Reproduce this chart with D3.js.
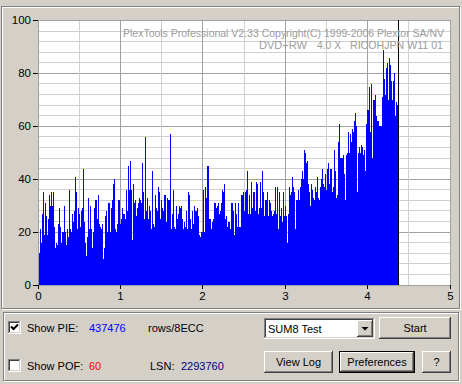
<!DOCTYPE html>
<html><head><meta charset="utf-8">
<script src="https://cdn.jsdelivr.net/npm/d3@7/dist/d3.min.js"></script>
<style>html,body{margin:0;padding:0;background:#D4D0C8;overflow:hidden}svg{display:block}</style>
</head><body>
<svg id="c" width="462" height="384"></svg>
<script>
// ---- data (PIE per position) ----
const pieSegA = [24,12,21,16,27,35,19,31,26,19,25,34,30,35,30,35,22,14,16,15,
23,29,22,16,20,20,30,20,15,21,18,36,21,20,27,24,28,41,35,21,
29,27,22,28,29,44,24,16,11,18,33,21,30,21,14,20,29,32,32,25,
34,23,22,21,23,10,14,26,28,20,31,31,20,29,32,38,40,21,20,23,
32,32,23,25,29,27,27,25,36,28,45,36,47,36,17,38,31,32,26,29,
31,33,32,31,46,35,25,56,28,33,25,30,28,21,43,23,22,34,29,28,
37,35,25,32,29,28,34,34,24,33,32,32,57,21,27,36,22,21,30,25,
27,30,29,30,25,21,24,22,28,21,35,34,25,21,28,23,30,28,28,29,
26,19,18,20,20,36,20,37,33,45,45,25,25,21,24,25,31,31,29,30,
31,27,28,31,36,35,38,25,26,22,24,24];
const pieSegB = [21,31,31,28,19,31,27,22,31,22,22,34,34,35,28,35,36,43,27,34,
27,39,29,35,35,28,39,38,27,29,39,29,43,35,26,32,32,35,26,32,
31,28,26,27,28,37,27,37];
const pieSegC = [21,35,26,29,24,35,26,30,26,16,27,37,34,35,41,37,35,21,32,32,
36,32,37,40,43,40,51,50,46,47,38,35,30,38,36,33,32,37,35,41,
33,32,37,40,44,38,37,42,36,44,46,38,44,44,35,37,51,43,33,34];
const pieSegD = [54,61,48,48,48,49,42,32,49,50,58,50,57,54,59,58,62,65,60,35,
50,52,50,53,52,49,51,43,61,66,66,75,58,76,48,70,70,72,64,62,
62,60,60,60,71,89,78,72,82,84,70,86,83,77,70,77,80,64,69,68,67];
const pieValues = [].concat(pieSegA, pieSegB, pieSegC, pieSegD);
const dataEnd = 4.381;            // GB position where the test stopped
const xDomain = [0, 5];
const yDomain = [0, 100];
const xTicks = [0,1,2,3,4,5];
const yTicks = [0,20,40,60,80,100];
const xGridStep = 0.5, yGridStep = 4;
const titleLine1 = "PlexTools Professional V2.33 Copyright(C) 1999-2006 Plextor SA/NV";
const titleLine2 = ["DVD+RW", "4.0 X", "RICOHJPN W11 01"];
const pieTotal = "437476", pofTotal = "60", lsn = "2293760";

const svg = d3.select('#c');
const FONT = '"Liberation Sans", Arial, sans-serif';
const FACE = '#D4D0C8';
svg.append('rect').attr('width',462).attr('height',384).attr('fill',FACE);

function etched(x0,y0,w,h){
  svg.append('rect').attr('x',x0+1.5).attr('y',y0+1.5).attr('width',w-1).attr('height',h-1)
     .attr('fill','none').attr('stroke','#fff');
  svg.append('rect').attr('x',x0+0.5).attr('y',y0+0.5).attr('width',w-1).attr('height',h-1)
     .attr('fill','none').attr('stroke','#808080');
}
etched(1,6,459,303);
etched(3,312,456,69);

// ---- chart ----
const x = d3.scaleLinear().domain(xDomain).range([38,450]);
const y = d3.scaleLinear().domain(yDomain).range([285,20.5]);
const cx = v => Math.floor(x(v))+0.5, cy = v => Math.floor(y(v))+0.5;

svg.append('rect').attr('x',Math.floor(x(0))).attr('y',Math.floor(y(100)))
   .attr('width',Math.floor(x(5))-Math.floor(x(0))+1).attr('height',Math.floor(y(0))-Math.floor(y(100)))
   .attr('fill','#fff');

const grid = svg.append('g').attr('shape-rendering','crispEdges');
d3.range(yDomain[0], yDomain[1]+0.001, yGridStep).forEach(v=>{
  grid.append('line').attr('x1',x(0)).attr('x2',x(5)+1).attr('y1',cy(v)).attr('y2',cy(v))
      .attr('stroke', v%20===0 ? '#A0A0A0' : '#D0D0D0');
});
d3.range(xDomain[0], xDomain[1]+0.001, xGridStep).forEach(v=>{
  grid.append('line').attr('y1',y(100)).attr('y2',y(0)).attr('x1',cx(v)).attr('x2',cx(v))
      .attr('stroke', Math.abs(v-Math.round(v))<1e-6 ? '#A0A0A0' : '#D0D0D0');
});

const stepW = dataEnd / pieValues.length;
const pts = pieValues.map((v,i)=>[i*stepW, v]);
pts.push([dataEnd, pieValues[pieValues.length-1]]);
const area = d3.area().x(d=>x(d[0])).y0(y(0)).y1(d=>y(d[1])).curve(d3.curveStepAfter);
svg.append('path').datum(pts).attr('d',area).attr('fill','#0000FF').attr('shape-rendering','crispEdges');

// axis border on top
svg.append('line').attr('x1',cx(0)).attr('x2',cx(0)).attr('y1',y(100)).attr('y2',y(0)+1)
   .attr('stroke','#A0A0A0').attr('shape-rendering','crispEdges');
// end-of-test marker
svg.append('line').attr('x1',cx(dataEnd)).attr('x2',cx(dataEnd)).attr('y1',Math.floor(y(100))).attr('y2',y(0))
   .attr('stroke','#000').attr('shape-rendering','crispEdges');

// axes
const ya = svg.append('g').attr('transform',`translate(${x(0)},0)`)
  .call(d3.axisLeft(y).tickValues(yTicks).tickFormat(d3.format('d')).tickSize(5).tickPadding(2).tickSizeOuter(0));
const xa = svg.append('g').attr('transform',`translate(0,${y(0)})`)
  .call(d3.axisBottom(x).tickValues(xTicks).tickFormat(d3.format('d')).tickSize(4).tickPadding(3).tickSizeOuter(0));
[ya,xa].forEach(a=>{
  a.select('.domain').remove();
  a.selectAll('line').attr('stroke','#000').attr('shape-rendering','crispEdges');
  a.selectAll('text').attr('fill','#000').style('font-family',FONT).style('font-size','11.5px');
});
xa.selectAll('.tick').attr('transform',d=>`translate(${cx(d)},0)`);
ya.selectAll('.tick').attr('transform',d=>`translate(0,${cy(d)})`);

// overlay text
const ov = svg.append('g').attr('fill','#9C9C9C').style('font-family',FONT).style('font-size','11px');
ov.append('text').attr('x',123).attr('y',37).attr('textLength',321).attr('lengthAdjust','spacingAndGlyphs').text(titleLine1);
ov.append('text').attr('x',259).attr('y',48.5).attr('textLength',48).attr('lengthAdjust','spacingAndGlyphs').text(titleLine2[0]);
ov.append('text').attr('x',317).attr('y',48.5).attr('textLength',24).attr('lengthAdjust','spacingAndGlyphs').text(titleLine2[1]);
ov.append('text').attr('x',350).attr('y',48.5).attr('textLength',93).attr('lengthAdjust','spacingAndGlyphs').text(titleLine2[2]);

// ---- controls ----
function sunken(x0,y0,w,h){
  const g = svg.append('g').attr('shape-rendering','crispEdges');
  g.append('rect').attr('x',x0).attr('y',y0).attr('width',w).attr('height',h).attr('fill','#fff');
  g.append('path').attr('d',`M${x0+0.5},${y0+h-1}V${y0+0.5}H${x0+w-1}`).attr('stroke','#808080').attr('fill','none');
  g.append('path').attr('d',`M${x0+1.5},${y0+h-2}V${y0+1.5}H${x0+w-2}`).attr('stroke','#404040').attr('fill','none');
  g.append('path').attr('d',`M${x0},${y0+h-0.5}H${x0+w-0.5}V${y0}`).attr('stroke','#fff').attr('fill','none');
  g.append('path').attr('d',`M${x0+1},${y0+h-1.5}H${x0+w-1.5}V${y0+1}`).attr('stroke',FACE).attr('fill','none');
}
function raised(x0,y0,w,h){
  const g = svg.append('g').attr('shape-rendering','crispEdges');
  g.append('rect').attr('x',x0).attr('y',y0).attr('width',w).attr('height',h).attr('fill',FACE);
  g.append('path').attr('d',`M${x0+0.5},${y0+h-1}V${y0+0.5}H${x0+w-1}`).attr('stroke','#fff').attr('fill','none');
  g.append('path').attr('d',`M${x0},${y0+h-0.5}H${x0+w-0.5}V${y0}`).attr('stroke','#404040').attr('fill','none');
  g.append('path').attr('d',`M${x0+1},${y0+h-1.5}H${x0+w-1.5}V${y0+1}`).attr('stroke','#808080').attr('fill','none');
}
function button(x0,y0,w,h,label,isDefault){
  if(isDefault){
    svg.append('rect').attr('x',x0+0.5).attr('y',y0+0.5).attr('width',w-1).attr('height',h-1)
       .attr('fill','none').attr('stroke','#000').attr('shape-rendering','crispEdges');
    raised(x0+1,y0+1,w-2,h-2);
  } else raised(x0,y0,w,h);
  svg.append('text').attr('x',x0+w/2).attr('y',y0+h/2+4).attr('text-anchor','middle')
     .style('font-family',FONT).style('font-size','11px').attr('fill','#000').text(label);
}
function label(x0,y0,t,col){
  svg.append('text').attr('x',x0).attr('y',y0).style('font-family',FONT).style('font-size','11px')
     .attr('fill',col||'#000').text(t);
}
// checkboxes
sunken(8,321,13,13);
svg.append('path').attr('d','M11,326.5 L13.5,329 L18,324.5').attr('stroke','#000').attr('stroke-width',2).attr('fill','none');
sunken(8,359,13,13);
label(27,331.5,'Show PIE:');
label(89,331.5,pieTotal,'#0000FF');
label(148,331.5,'rows/8ECC');
label(27,370,'Show POF:');
label(89,370,pofTotal,'#FF0000');
label(150,370,'LSN:');
label(181,370,lsn,'#000080');

// combobox
sunken(264,318,111,21);
label(268,332.5,'SUM8 Test');
raised(357,320,16,17);
svg.append('path').attr('d','M361.5,327 L368.5,327 L365,330.5 Z').attr('fill','#000');

button(379,317,72,22,'Start',false);
button(264,351,69,22,'View Log',false);
button(339,351,76,22,'Preferences',true);
button(422,351,29,22,'?',false);
</script>
</body></html>
